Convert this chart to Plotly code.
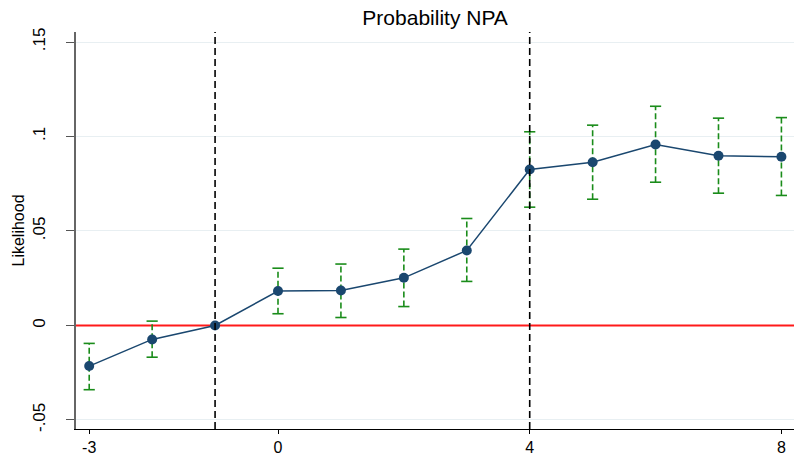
import plotly.graph_objects as go

periods = [-3, -2, -1, 0, 1, 2, 3, 4, 5, 6, 7, 8]
estimate = [-0.0215, -0.0074, 0.0, 0.0182, 0.0185, 0.0252, 0.0397, 0.0825, 0.0864, 0.0958, 0.0898, 0.0893]
ci_high = [-0.0095, 0.0023, 0.0, 0.0303, 0.0325, 0.0404, 0.0566, 0.1025, 0.1060, 0.1160, 0.1097, 0.1100]
ci_low = [-0.0340, -0.0168, 0.0, 0.0062, 0.0042, 0.0100, 0.0233, 0.0626, 0.0668, 0.0758, 0.0700, 0.0688]
event_lines = [-1, 4]
x_ticks = [-3, 0, 4, 8]
y_ticks = [-0.05, 0, 0.05, 0.1, 0.15]
y_tick_labels = ["-.05", "0", ".05", ".1", ".15"]
x_range = [-3.21, 8.2]

navy = "#1a476f"
green = "#1a8c1a"

fig = go.Figure()

# zero reference line
fig.add_trace(go.Scatter(x=x_range, y=[0, 0], mode="lines",
                         line=dict(color="#ff1a1a", width=2),
                         hoverinfo="skip", showlegend=False))

# CI segments (dashed)
seg_x, seg_y, cap_x, cap_y = [], [], [], []
for p, lo, hi in zip(periods, ci_low, ci_high):
    if hi == lo:
        continue
    seg_x += [p, p, None]
    seg_y += [lo, hi, None]
    cap_x += [p, p]
    cap_y += [lo, hi]

fig.add_trace(go.Scatter(x=seg_x, y=seg_y, mode="lines",
                         line=dict(color=green, width=1.6, dash="6px,3px"),
                         hoverinfo="skip", showlegend=False))
fig.add_trace(go.Scatter(x=cap_x, y=cap_y, mode="markers",
                         marker=dict(symbol="line-ew", size=8,
                                     line=dict(color=green, width=1.6)),
                         hoverinfo="skip", showlegend=False))

fig.add_trace(go.Scatter(x=periods, y=estimate, mode="lines+markers",
                         line=dict(color=navy, width=1.5),
                         marker=dict(color=navy, size=10),
                         showlegend=False))

# event lines
for ev in event_lines:
    fig.add_shape(type="line", x0=ev, x1=ev, xref="x", y0=0, y1=1, yref="paper",
                  line=dict(color="black", width=1.6, dash="7px,4px"), layer="above")

fig.update_layout(
    width=794, height=455,
    margin=dict(l=76, r=0, t=32, b=26),
    paper_bgcolor="white", plot_bgcolor="white",
    font=dict(family="Liberation Sans, Arial, sans-serif", size=16, color="black"),
    title=dict(text="Probability NPA", x=0.548, xanchor="center", y=0.962, yanchor="middle",
               font=dict(size=21)),
)
fig.update_xaxes(range=x_range, tickvals=x_ticks, ticktext=[str(t) for t in x_ticks],
                 showgrid=False, zeroline=False, showline=True, linecolor="black", linewidth=1.2,
                 ticks="outside", ticklen=4, tickcolor="black", tickfont=dict(size=16),
                 automargin=False)
fig.update_yaxes(range=[-0.0548, 0.1553], tickvals=y_ticks, ticktext=y_tick_labels,
                 tickangle=-90, showgrid=True, gridcolor="#e8eff2", gridwidth=1,
                 zeroline=False, showline=True, linecolor="#666666", linewidth=1.5,
                 ticks="outside", ticklen=8, tickcolor="#555555", tickfont=dict(size=17),
                 ticklabelstandoff=14,
                 title=dict(text="Likelihood", font=dict(size=16), standoff=2),
                 automargin=False)

fig.write_html("out.html", config={"displayModeBar": False},
               post_script="document.body.style.margin='0';document.body.style.overflow='hidden';")
